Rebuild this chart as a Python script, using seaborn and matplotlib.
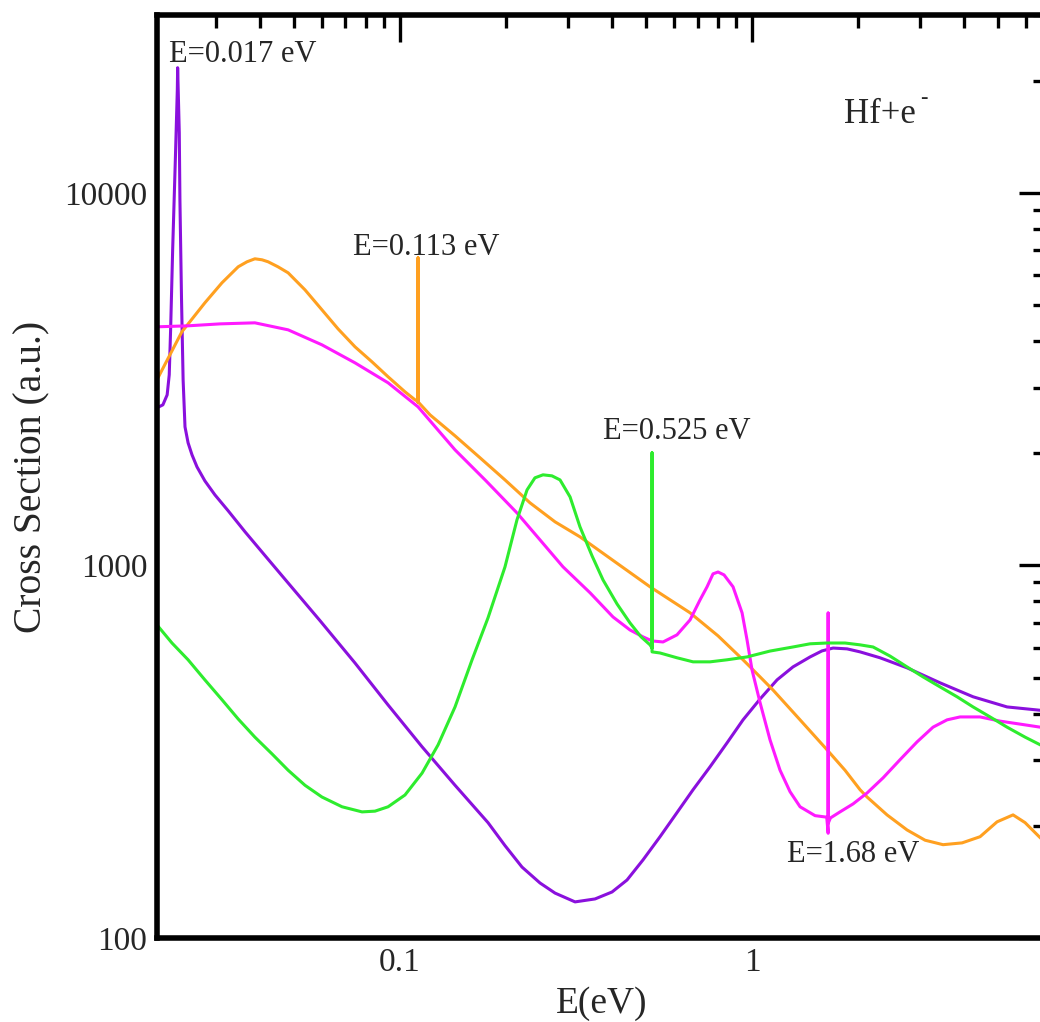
import numpy as np
import pandas as pd
import matplotlib
matplotlib.use("Agg")
import matplotlib.pyplot as plt
import seaborn as sns
from matplotlib.ticker import LogLocator, FixedLocator, FixedFormatter, NullFormatter

# ---------------- data ----------------
purple_E = [0.0204, 0.0212, 0.0218, 0.0221, 0.0223, 0.0226, 0.0230, 0.0233, 0.02335,
            0.0236, 0.0237, 0.02395, 0.0242, 0.0245, 0.0250, 0.02565, 0.0265, 0.0279,
            0.0298, 0.0325, 0.0363, 0.0414, 0.0481, 0.0593, 0.0745, 0.0925, 0.1155,
            0.1433, 0.1778, 0.1987, 0.2221, 0.2498, 0.2756, 0.3142, 0.3581, 0.4002,
            0.4414, 0.4900, 0.5478, 0.6120, 0.6799, 0.7597, 0.8492, 0.9428, 1.054,
            1.178, 1.307, 1.462, 1.580, 1.699, 1.862, 2.027, 2.310, 2.756, 3.420,
            4.245, 5.302, 6.84]
purple_sigma = [2648, 2697, 2868, 3247, 4287, 7031, 12262, 18900, 21660,
                14490, 9577, 5163, 3148, 2354, 2133, 1980, 1838, 1686,
                1546, 1401, 1230, 1061, 897, 710, 547, 422, 326,
                257, 204, 177, 155, 140.5, 132, 125, 127.3, 132.9,
                143.1, 162, 187, 217, 250, 288, 334, 385, 438,
                493, 534, 568, 589.5, 600, 597, 586, 565, 531, 484,
                444, 417, 407]

orange_E = [0.0204, 0.0240, 0.0279, 0.0312, 0.0347, 0.03675, 0.0387, 0.04055, 0.0422,
            0.0450, 0.0481, 0.0537, 0.0600, 0.06667, 0.0745, 0.08325, 0.0925, 0.1033,
            0.1103, 0.1120, 0.1125, 0.1125, 0.1125, 0.1130, 0.1217, 0.1433, 0.1688,
            0.1987, 0.2340, 0.2756, 0.3245, 0.4082, 0.5131, 0.6667, 0.8006, 0.9428,
            1.054, 1.147, 1.369, 1.633, 1.837, 2.027, 2.122, 2.418, 2.756, 3.101,
            3.488, 3.951, 4.444, 4.966, 5.514, 5.965, 6.579, 6.84]
orange_sigma = [3150, 4234, 5066, 5733, 6330, 6528, 6650, 6609, 6528,
                6330, 6098, 5490, 4852, 4313, 3860, 3518, 3207, 2923,
                2782, 2760, 2740, 6690, 2740, 2735, 2535, 2227, 1944,
                1696, 1472, 1309, 1193, 1022, 876, 746, 647, 558,
                502, 463, 385, 320, 282, 250, 239, 214, 195, 183,
                178, 180, 187, 205, 214, 204, 186, 180]

magenta_E = [0.0204, 0.0250, 0.0308, 0.0387, 0.0481, 0.0600, 0.0745, 0.0925, 0.1125,
             0.1433, 0.1755, 0.2149, 0.2498, 0.2904, 0.3467, 0.4028, 0.4500, 0.4900,
             0.5199, 0.5587, 0.6120, 0.6667, 0.7116, 0.7451, 0.7747, 0.8006, 0.8325,
             0.8831, 0.9368, 0.9678, 1.000, 1.054, 1.125, 1.201, 1.282, 1.369,
             1.510, 1.630, 1.645, 1.645, 1.645, 1.670, 1.778, 1.936, 2.122, 2.356,
             2.633, 2.943, 3.267, 3.581, 3.898, 4.444, 5.064, 5.772, 6.84]
magenta_sigma = [4368, 4395, 4448, 4477, 4287, 3908, 3496, 3090, 2664,
                 2042, 1686, 1383, 1171, 991, 844, 727, 671, 643,
                 627, 623, 651, 714, 808, 876, 949, 960, 943,
                 876, 746, 631, 524, 428, 340, 282, 247, 225,
                 213, 211, 191, 745, 203, 210, 218, 229, 245, 269,
                 301, 336, 368, 385, 392, 392, 382, 375, 366]

green_E = [0.0204, 0.0225, 0.0250, 0.0279, 0.0312, 0.0347, 0.0387, 0.04328, 0.0481,
           0.0537, 0.0600, 0.06843, 0.0780, 0.0849, 0.0925, 0.1033, 0.1155, 0.1283,
           0.1433, 0.1602, 0.1778, 0.1987, 0.2149, 0.2295, 0.2417, 0.2548, 0.2702,
           0.2848, 0.3041, 0.3245, 0.3511, 0.3773, 0.4135, 0.4500, 0.4839, 0.5131,
           0.5199, 0.5199, 0.5199, 0.5478, 0.6120, 0.6799, 0.7597, 0.8492, 0.9678,
           1.125, 1.307, 1.462, 1.633, 1.837, 2.027, 2.207, 2.466, 2.756, 3.061,
           3.420, 3.823, 4.245, 4.745, 5.302, 5.965, 6.84]
green_sigma = [692, 619, 558, 493, 436, 387, 346, 312, 282,
               257, 239, 225, 218, 219, 225, 242, 277, 330,
               417, 558, 723, 991, 1325, 1594, 1718, 1750, 1739,
               1696, 1527, 1269, 1061, 914, 788, 701, 643, 612,
               600, 2005, 586, 582, 565, 551, 551, 558, 568,
               589, 604, 616, 619, 619, 612, 604, 571, 534, 502,
               472, 444, 417, 392, 368, 346, 324]

series_names = ["E=0.017 eV", "E=0.113 eV", "E=1.68 eV", "E=0.525 eV"]
series_colors = ["#8a10dd", "#ffa020", "#ff1aff", "#2eec2e"]

x_major = [0.1, 1]
x_major_labels = ["0.1", "1"]
y_major = [100, 1000, 10000]
y_major_labels = ["100", "1000", "10000"]

# ---------------- build table ----------------
frames = []
for name, E, s in zip(series_names,
                      [purple_E, orange_E, magenta_E, green_E],
                      [purple_sigma, orange_sigma, magenta_sigma, green_sigma]):
    frames.append(pd.DataFrame({"E": E, "sigma": s, "series": name}))
df = pd.concat(frames, ignore_index=True)

# ---------------- style ----------------
sns.set_style("white")
plt.rcParams["font.family"] = ["Liberation Serif", "DejaVu Serif"]

W, H = 1040, 1022
fig = plt.figure(figsize=(W / 100, H / 100), dpi=100)
ax = fig.add_axes([157 / W, (H - 938) / H, (1046 - 157) / W, (938 - 15) / H])
ax.set_xscale("log")
ax.set_yscale("log")

sns.lineplot(data=df, x="E", y="sigma", hue="series", units="series",
             palette=dict(zip(series_names, series_colors)),
             hue_order=series_names, sort=False, estimator=None,
             legend=False, linewidth=2.2, ax=ax)

ax.set_xlim(0.0204, 6.84)
ax.set_ylim(100, 30000)

ax.xaxis.set_major_locator(FixedLocator(x_major))
ax.xaxis.set_major_formatter(FixedFormatter(x_major_labels))
ax.xaxis.set_minor_locator(LogLocator(base=10, subs=np.arange(2, 10)))
ax.xaxis.set_minor_formatter(NullFormatter())
ax.yaxis.set_major_locator(FixedLocator(y_major))
ax.yaxis.set_major_formatter(FixedFormatter(y_major_labels))
ax.yaxis.set_minor_locator(LogLocator(base=10, subs=np.arange(2, 10)))
ax.yaxis.set_minor_formatter(NullFormatter())

ax.tick_params(which="both", direction="in", top=True, right=True,
               width=2.4, color="black", labelsize=24, pad=7)
ax.tick_params(which="major", length=19.5)
ax.tick_params(which="minor", length=9.7)
for sp in ax.spines.values():
    sp.set_linewidth(4)
    sp.set_color("black")

ax.set_xlabel("E(eV)", fontsize=27, labelpad=6)
ax.set_ylabel("Cross Section (a.u.)", fontsize=28.5, labelpad=10)

# annotations
ax.text(0.02207, 22470, "E=0.017 eV", fontsize=22, ha="left", va="baseline")
ax.text(0.07353, 6818, "E=0.113 eV", fontsize=22, ha="left", va="baseline")
ax.text(0.3773, 2185, "E=0.525 eV", fontsize=22, ha="left", va="baseline")
ax.text(1.257, 160, "E=1.68 eV", fontsize=22, ha="left", va="baseline")
ax.text(1.826, 15420, "Hf+e", fontsize=25, ha="left", va="baseline")
ax.text(3.001, 17440, "-", fontsize=16, ha="left", va="baseline")

fig.savefig("out.png", dpi=100)
